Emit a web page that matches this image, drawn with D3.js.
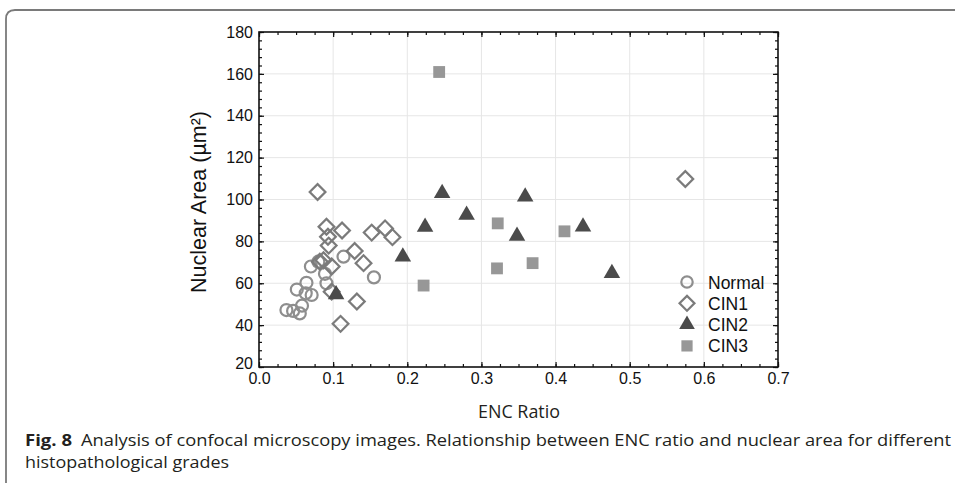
<!DOCTYPE html>
<html>
<head>
<meta charset="utf-8">
<script src="https://cdn.jsdelivr.net/npm/d3@7"></script>
<style>
  body { margin: 0; background: #fff; }
  svg { display: block; }
</style>
</head>
<body>
<div id="chart"></div>
<script>
// values: [ENC ratio, nuclear area]
const normal = [
  [0.037, 47.2], [0.046, 46.8], [0.055, 45.6], [0.058, 49.3], [0.051, 57.0],
  [0.064, 60.2], [0.063, 55.2], [0.071, 54.4], [0.070, 68.0], [0.080, 70.3],
  [0.089, 64.5], [0.091, 60.0], [0.114, 72.7], [0.155, 62.8]
];
const cin1 = [
  [0.079, 103.6], [0.091, 87.0], [0.112, 85.2], [0.093, 82.2], [0.094, 78.0],
  [0.152, 84.2], [0.170, 86.2], [0.180, 82.0], [0.129, 75.4], [0.141, 69.6],
  [0.082, 70.3], [0.087, 71.0], [0.098, 68.0], [0.098, 56.0], [0.132, 51.3],
  [0.110, 40.6], [0.575, 109.8]
];
const cin2 = [
  [0.104, 54.6], [0.194, 72.7], [0.224, 86.9], [0.247, 103.0], [0.280, 92.6],
  [0.348, 82.6], [0.359, 101.3], [0.437, 87.0], [0.476, 64.8]
];
const cin3 = [
  [0.222, 58.9], [0.243, 160.9], [0.322, 88.6], [0.321, 67.1], [0.369, 69.6],
  [0.412, 84.8]
];
const seriesNames = ['Normal', 'CIN1', 'CIN2', 'CIN3'];
const xTicks = [0, 0.1, 0.2, 0.3, 0.4, 0.5, 0.6, 0.7];
const yTicks = [20, 40, 60, 80, 100, 120, 140, 160, 180];

const W = 956, H = 483;
const plot = { left: 259, right: 778, top: 32, bottom: 367 };

const svg = d3.select('#chart').append('svg')
  .attr('width', W).attr('height', H);

// panel border (top + left with rounded corner)
svg.append('path')
  .attr('d', `M6,${H} L6,19 Q6,10 15,10 L955,10`)
  .attr('fill', 'none').attr('stroke', '#7a7a7a').attr('stroke-width', 1.8);

const x = d3.scaleLinear().domain([0, 0.7]).range([plot.left, plot.right]);
const y = d3.scaleLinear().domain([20, 180]).range([plot.bottom, plot.top]);

// grid
const grid = svg.append('g').attr('stroke', '#e6e6e6').attr('stroke-width', 1);
grid.selectAll('line.gx').data(xTicks.slice(1, -1)).enter().append('line')
  .attr('x1', d => x(d)).attr('x2', d => x(d))
  .attr('y1', plot.top).attr('y2', plot.bottom);
grid.selectAll('line.gy').data(yTicks.slice(1, -1)).enter().append('line')
  .attr('y1', d => y(d)).attr('y2', d => y(d))
  .attr('x1', plot.left).attr('x2', plot.right);

const xMinor = d3.range(0, 0.7001, 0.025);
const yMinor = d3.range(20, 180.01, 4);

function styleAxis(g) {
  g.select('.domain').remove();
  g.selectAll('.tick line').attr('stroke', '#111').attr('stroke-width', 1.2);
  g.selectAll('.tick text')
    .attr('font-family', 'Liberation Sans, Arial, sans-serif')
    .attr('font-size', 16).attr('fill', '#111');
}

// minor ticks, all four sides, pointing inward
[[d3.axisBottom(x), plot.bottom, true], [d3.axisTop(x), plot.top, true],
 [d3.axisLeft(y), plot.left, false], [d3.axisRight(y), plot.right, false]]
  .forEach(([ax, pos, horiz]) => {
    const g = svg.append('g')
      .attr('transform', horiz ? `translate(0,${pos})` : `translate(${pos},0)`)
      .call(ax.tickValues(horiz ? xMinor : yMinor).tickSizeInner(-3).tickSizeOuter(0).tickFormat(''));
    styleAxis(g);
  });

// major ticks with labels
const xAxis = svg.append('g').attr('transform', `translate(0,${plot.bottom})`)
  .call(d3.axisBottom(x).tickValues(xTicks).tickSizeInner(-5).tickSizeOuter(0)
    .tickPadding(6).tickFormat(d3.format('.1f')));
styleAxis(xAxis);
const yAxis = svg.append('g').attr('transform', `translate(${plot.left},0)`)
  .call(d3.axisLeft(y).tickValues(yTicks).tickSizeInner(-5).tickSizeOuter(0).tickPadding(6));
styleAxis(yAxis);
yAxis.selectAll('.tick text').filter(d => d === 20).attr('dy', '0.1em');
const xTop = svg.append('g').attr('transform', `translate(0,${plot.top})`)
  .call(d3.axisTop(x).tickValues(xTicks).tickSizeInner(-5).tickSizeOuter(0).tickFormat(''));
styleAxis(xTop);
const yRight = svg.append('g').attr('transform', `translate(${plot.right},0)`)
  .call(d3.axisRight(y).tickValues(yTicks).tickSizeInner(-5).tickSizeOuter(0).tickFormat(''));
styleAxis(yRight);

// frame
svg.append('rect')
  .attr('x', plot.left).attr('y', plot.top)
  .attr('width', plot.right - plot.left).attr('height', plot.bottom - plot.top)
  .attr('fill', 'none').attr('stroke', '#111').attr('stroke-width', 1.6);

// marker styles
const markers = {
  Normal: { type: d3.symbolCircle, size: 113, fill: 'none', stroke: '#8e8e8e', rot: 0 },
  CIN1: { type: d3.symbolSquare, size: 124, fill: 'none', stroke: '#7b7b7b', rot: 45 },
  CIN2: { type: d3.symbolTriangle, size: 118, fill: '#4b4b4b', stroke: 'none', rot: 0 },
  CIN3: { type: d3.symbolSquare, size: 140, fill: '#979797', stroke: 'none', rot: 0 }
};

function drawSeries(data, name) {
  const m = markers[name];
  const sym = d3.symbol().type(m.type).size(m.size);
  svg.append('g').selectAll('path').data(data).enter().append('path')
    .attr('d', sym)
    .attr('transform', d => `translate(${x(d[0])},${y(d[1])}) rotate(${m.rot})`)
    .attr('fill', m.fill).attr('stroke', m.stroke).attr('stroke-width', 2.2);
}
[normal, cin1, cin2, cin3].forEach((s, i) => drawSeries(s, seriesNames[i]));

// legend
const legend = svg.append('g').attr('transform', 'translate(687,282)');
seriesNames.forEach((name, i) => {
  const m = markers[name];
  const row = legend.append('g').attr('transform', `translate(0,${i * 21.3})`);
  row.append('path')
    .attr('d', d3.symbol().type(m.type).size(m.size * 0.9))
    .attr('transform', `rotate(${m.rot})`)
    .attr('fill', m.fill).attr('stroke', m.stroke).attr('stroke-width', 2.2);
  row.append('text')
    .attr('x', 21).attr('y', 6.5)
    .attr('font-family', 'Liberation Sans, Arial, sans-serif')
    .attr('font-size', 17.5).attr('fill', '#111')
    .text(name);
});

// axis titles
svg.append('text')
  .attr('transform', 'translate(206,202) rotate(-90)')
  .attr('text-anchor', 'middle')
  .attr('font-family', 'Liberation Sans, Arial, sans-serif')
  .attr('font-size', 21.5).attr('fill', '#111')
  .text('Nuclear Area (µm²)');

svg.append('text')
  .attr('x', 519).attr('y', 418)
  .attr('text-anchor', 'middle')
  .attr('font-family', 'Open Sans, sans-serif')
  .attr('font-size', 18.5).attr('fill', '#231f20')
  .attr('textLength', 82).attr('lengthAdjust', 'spacingAndGlyphs')
  .text('ENC Ratio');

// caption
const cap = svg.append('g')
  .attr('font-family', 'Open Sans, sans-serif')
  .attr('font-size', 16).attr('fill', '#231f20');
cap.append('text').attr('x', 25).attr('y', 446)
  .attr('font-weight', 'bold')
  .attr('textLength', 47).attr('lengthAdjust', 'spacingAndGlyphs')
  .text('Fig. 8');
cap.append('text').attr('x', 81).attr('y', 446)
  .attr('textLength', 870).attr('lengthAdjust', 'spacingAndGlyphs')
  .text('Analysis of confocal microscopy images. Relationship between ENC ratio and nuclear area for different');
cap.append('text').attr('x', 25).attr('y', 468)
  .attr('textLength', 204).attr('lengthAdjust', 'spacingAndGlyphs')
  .text('histopathological grades');
</script>
</body>
</html>
